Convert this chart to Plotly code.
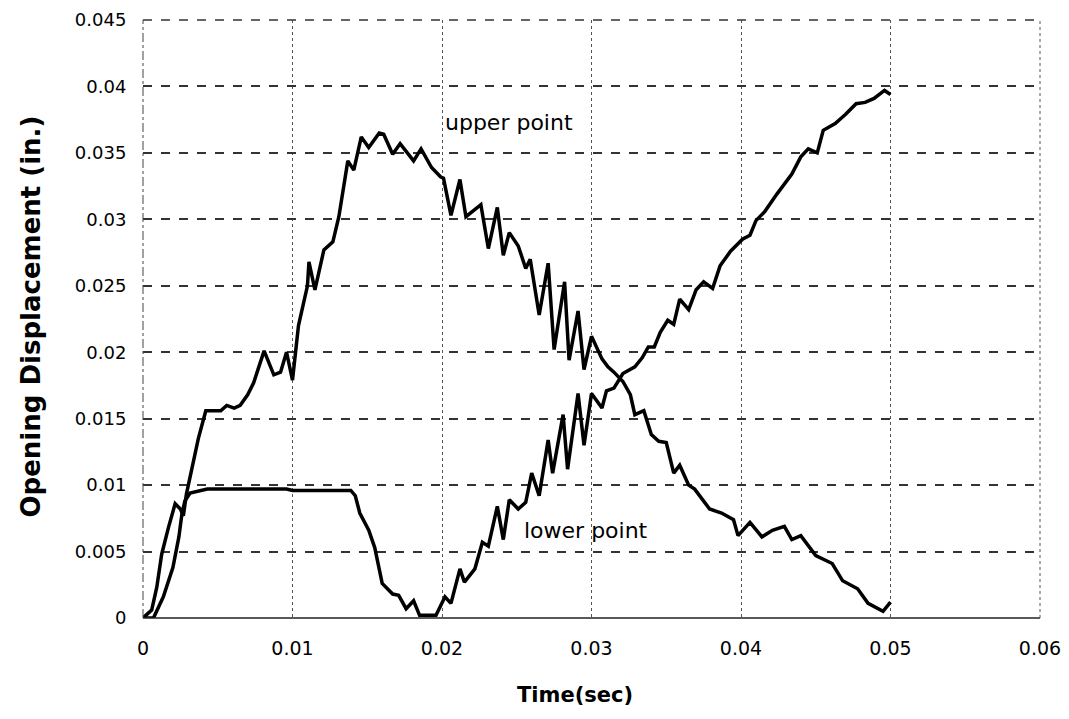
import plotly.graph_objects as go

# Upper point series (time in sec, displacement in in.)
upper_t = [0.0, 0.00058, 0.00092, 0.00125, 0.0017, 0.00215, 0.0025, 0.0027, 0.0029, 0.0033,
           0.0037, 0.0042, 0.0052, 0.0056, 0.0061, 0.0065, 0.0070, 0.0074, 0.0081, 0.00875,
           0.0092, 0.0096, 0.0100, 0.0104, 0.0110, 0.0111, 0.0115, 0.0121, 0.0127, 0.0131,
           0.0134, 0.0137, 0.0141, 0.0146, 0.0151, 0.0158, 0.0161, 0.0167, 0.0172, 0.0181,
           0.0186, 0.0193, 0.0199, 0.0201, 0.0206, 0.0212, 0.0216, 0.0226, 0.0231, 0.0237,
           0.0241, 0.0245, 0.0251, 0.0256, 0.0259, 0.0265, 0.0271, 0.0275, 0.0282, 0.0285,
           0.0291, 0.0295, 0.0300, 0.0307, 0.0311, 0.0315, 0.0321, 0.0326, 0.0329, 0.0335,
           0.0340, 0.0345, 0.0350, 0.0355, 0.0359, 0.0365, 0.0369, 0.0379, 0.0387, 0.0395,
           0.0398, 0.0406, 0.0414, 0.0421, 0.0429, 0.0434, 0.0440, 0.0450, 0.0461, 0.0468,
           0.0478, 0.0485, 0.0495, 0.0500]
upper_v = [0.0, 0.0006, 0.0023, 0.0048, 0.0068, 0.0086, 0.0082, 0.0077, 0.0093, 0.0115,
           0.0135, 0.0156, 0.0156, 0.0160, 0.0158, 0.0160, 0.0168, 0.0177, 0.0201, 0.0183,
           0.0185, 0.0200, 0.0179, 0.0220, 0.0250, 0.0268, 0.0247, 0.0277, 0.0283, 0.0302,
           0.0325, 0.0344, 0.0337, 0.0362, 0.0354, 0.0365, 0.0364, 0.0349, 0.0357, 0.0344,
           0.0353, 0.0339, 0.0332, 0.0331, 0.0303, 0.0330, 0.0302, 0.0311, 0.0278, 0.0309,
           0.0273, 0.0290, 0.0280, 0.0263, 0.0270, 0.0228, 0.0267, 0.0202, 0.0253, 0.0194,
           0.0231, 0.0187, 0.0212, 0.0195, 0.0189, 0.0185, 0.0178, 0.0168, 0.0153, 0.0156,
           0.0138, 0.0133, 0.0132, 0.0109, 0.0115, 0.0100, 0.0097, 0.0082, 0.0079, 0.0074,
           0.0062, 0.0072, 0.0061, 0.0066, 0.0069, 0.0059, 0.0062, 0.0047, 0.0041, 0.0028,
           0.0022, 0.0011, 0.0005, 0.0012]

# Lower point series
lower_t = [0.0, 0.0007, 0.00136, 0.0020, 0.0024, 0.0026, 0.0028, 0.00315, 0.0043, 0.0096,
           0.0100, 0.0139, 0.0142, 0.0145, 0.0151, 0.0155, 0.0160, 0.0167, 0.0171, 0.0176,
           0.0181, 0.0185, 0.0196, 0.0202, 0.0206, 0.0212, 0.0215, 0.0222, 0.0227, 0.0231,
           0.0237, 0.0241, 0.0245, 0.0251, 0.0256, 0.0260, 0.0265, 0.0271, 0.0274, 0.0281,
           0.0284, 0.0291, 0.0295, 0.0300, 0.0307, 0.0310, 0.0315, 0.0321, 0.0329, 0.0334,
           0.0338, 0.0342, 0.0346, 0.0351, 0.0355, 0.0359, 0.0365, 0.0370, 0.0375, 0.0381,
           0.0386, 0.0393, 0.0401, 0.0406, 0.0410, 0.0416, 0.0424, 0.0434, 0.0440, 0.0445,
           0.0451, 0.0455, 0.0463, 0.0470, 0.0477, 0.0483, 0.0489, 0.0496, 0.0500]
lower_v = [0.0, 0.0, 0.0016, 0.0038, 0.0061, 0.0078, 0.0088, 0.0094, 0.0097, 0.0097,
           0.0096, 0.0096, 0.0092, 0.0079, 0.0066, 0.0053, 0.0026, 0.0018, 0.0017, 0.0007,
           0.0013, 0.0002, 0.0002, 0.0016, 0.0011, 0.0037, 0.0027, 0.0037, 0.0057, 0.0054,
           0.0084, 0.0059, 0.0089, 0.0082, 0.0087, 0.0109, 0.0092, 0.0134, 0.0109, 0.0153,
           0.0112, 0.0169, 0.0130, 0.0169, 0.0158, 0.0171, 0.0173, 0.0184, 0.0189, 0.0196,
           0.0204, 0.0204, 0.0215, 0.0224, 0.0221, 0.0240, 0.0232, 0.0247, 0.0253, 0.0248,
           0.0265, 0.0276, 0.0285, 0.0288, 0.0299, 0.0306, 0.0319, 0.0334, 0.0347, 0.0353,
           0.0350, 0.0367, 0.0372, 0.0379, 0.0387, 0.0388, 0.0391, 0.0397, 0.0394]

x_ticks = [0, 0.01, 0.02, 0.03, 0.04, 0.05, 0.06]
x_tick_text = ["0", "0.01", "0.02", "0.03", "0.04", "0.05", "0.06"]
y_ticks = [0, 0.005, 0.01, 0.015, 0.02, 0.025, 0.03, 0.035, 0.04, 0.045]
y_tick_text = ["0", "0.005", "0.01", "0.015", "0.02", "0.025", "0.03", "0.035", "0.04", "0.045"]

label_upper = "upper point"
label_lower = "lower point"
x_title = "Time(sec)"
y_title = "Opening Displacement (in.)"

fig = go.Figure()
fig.add_trace(go.Scatter(x=upper_t, y=upper_v, mode="lines", name=label_upper,
                         line=dict(color="black", width=3.5), showlegend=False))
fig.add_trace(go.Scatter(x=lower_t, y=lower_v, mode="lines", name=label_lower,
                         line=dict(color="black", width=3.5), showlegend=False))

fig.add_annotation(x=0.02445, y=0.0373, text=label_upper, showarrow=False,
                   font=dict(family="DejaVu Sans", size=22, color="black"))
fig.add_annotation(x=0.0296, y=0.0066, text=label_lower, showarrow=False,
                   font=dict(family="DejaVu Sans", size=22, color="black"))

fig.add_annotation(xref="paper", yref="paper", x=0.4816, y=-0.128, text="<b>" + x_title + "</b>",
                   showarrow=False, xanchor="center", yanchor="middle",
                   font=dict(family="DejaVu Sans", size=21, color="black"))
fig.add_annotation(xref="paper", yref="paper", x=-0.125, y=0.504, text="<b>" + y_title + "</b>",
                   showarrow=False, xanchor="center", yanchor="middle", textangle=-90,
                   font=dict(family="DejaVu Sans", size=26, color="black"))

# frame lines at the plot edges (styled like the scanned grid)
fig.add_shape(type="line", xref="paper", yref="paper", x0=0, x1=1, y0=0, y1=0,
              line=dict(color="#222222", width=1.5))
fig.add_shape(type="line", xref="paper", yref="paper", x0=0, x1=1, y0=1, y1=1,
              line=dict(color="#333333", width=1.5, dash="dash"))
fig.add_shape(type="line", xref="paper", yref="paper", x0=0, x1=0, y0=0, y1=1,
              line=dict(color="#444444", width=1, dash="dashdot"))
fig.add_shape(type="line", xref="paper", yref="paper", x0=1, x1=1, y0=0, y1=1,
              line=dict(color="#555555", width=1, dash="dot"))

fig.update_layout(
    width=1061, height=711,
    margin=dict(l=135, r=29, t=12, b=101, autoexpand=False),
    paper_bgcolor="white", plot_bgcolor="white",
    xaxis=dict(range=[0, 0.06], tickvals=x_ticks, ticktext=x_tick_text,
               showgrid=True, gridcolor="#555555", gridwidth=1, griddash="dot",
               zeroline=False, showline=False, automargin=False,
               ticklabeloverflow="allow",
               ticks="outside", ticklen=13, tickcolor="rgba(0,0,0,0)",
               tickfont=dict(family="DejaVu Sans", size=19, color="black")),
    yaxis=dict(range=[0, 0.045], tickvals=y_ticks, ticktext=y_tick_text,
               showgrid=True, gridcolor="#333333", gridwidth=1.5, griddash="dash",
               zeroline=False, showline=False, automargin=False,
               ticklabeloverflow="allow",
               ticks="outside", ticklen=12, tickcolor="rgba(0,0,0,0)",
               tickfont=dict(family="DejaVu Sans", size=18, color="black")),
)

fig.write_html("out.html")
